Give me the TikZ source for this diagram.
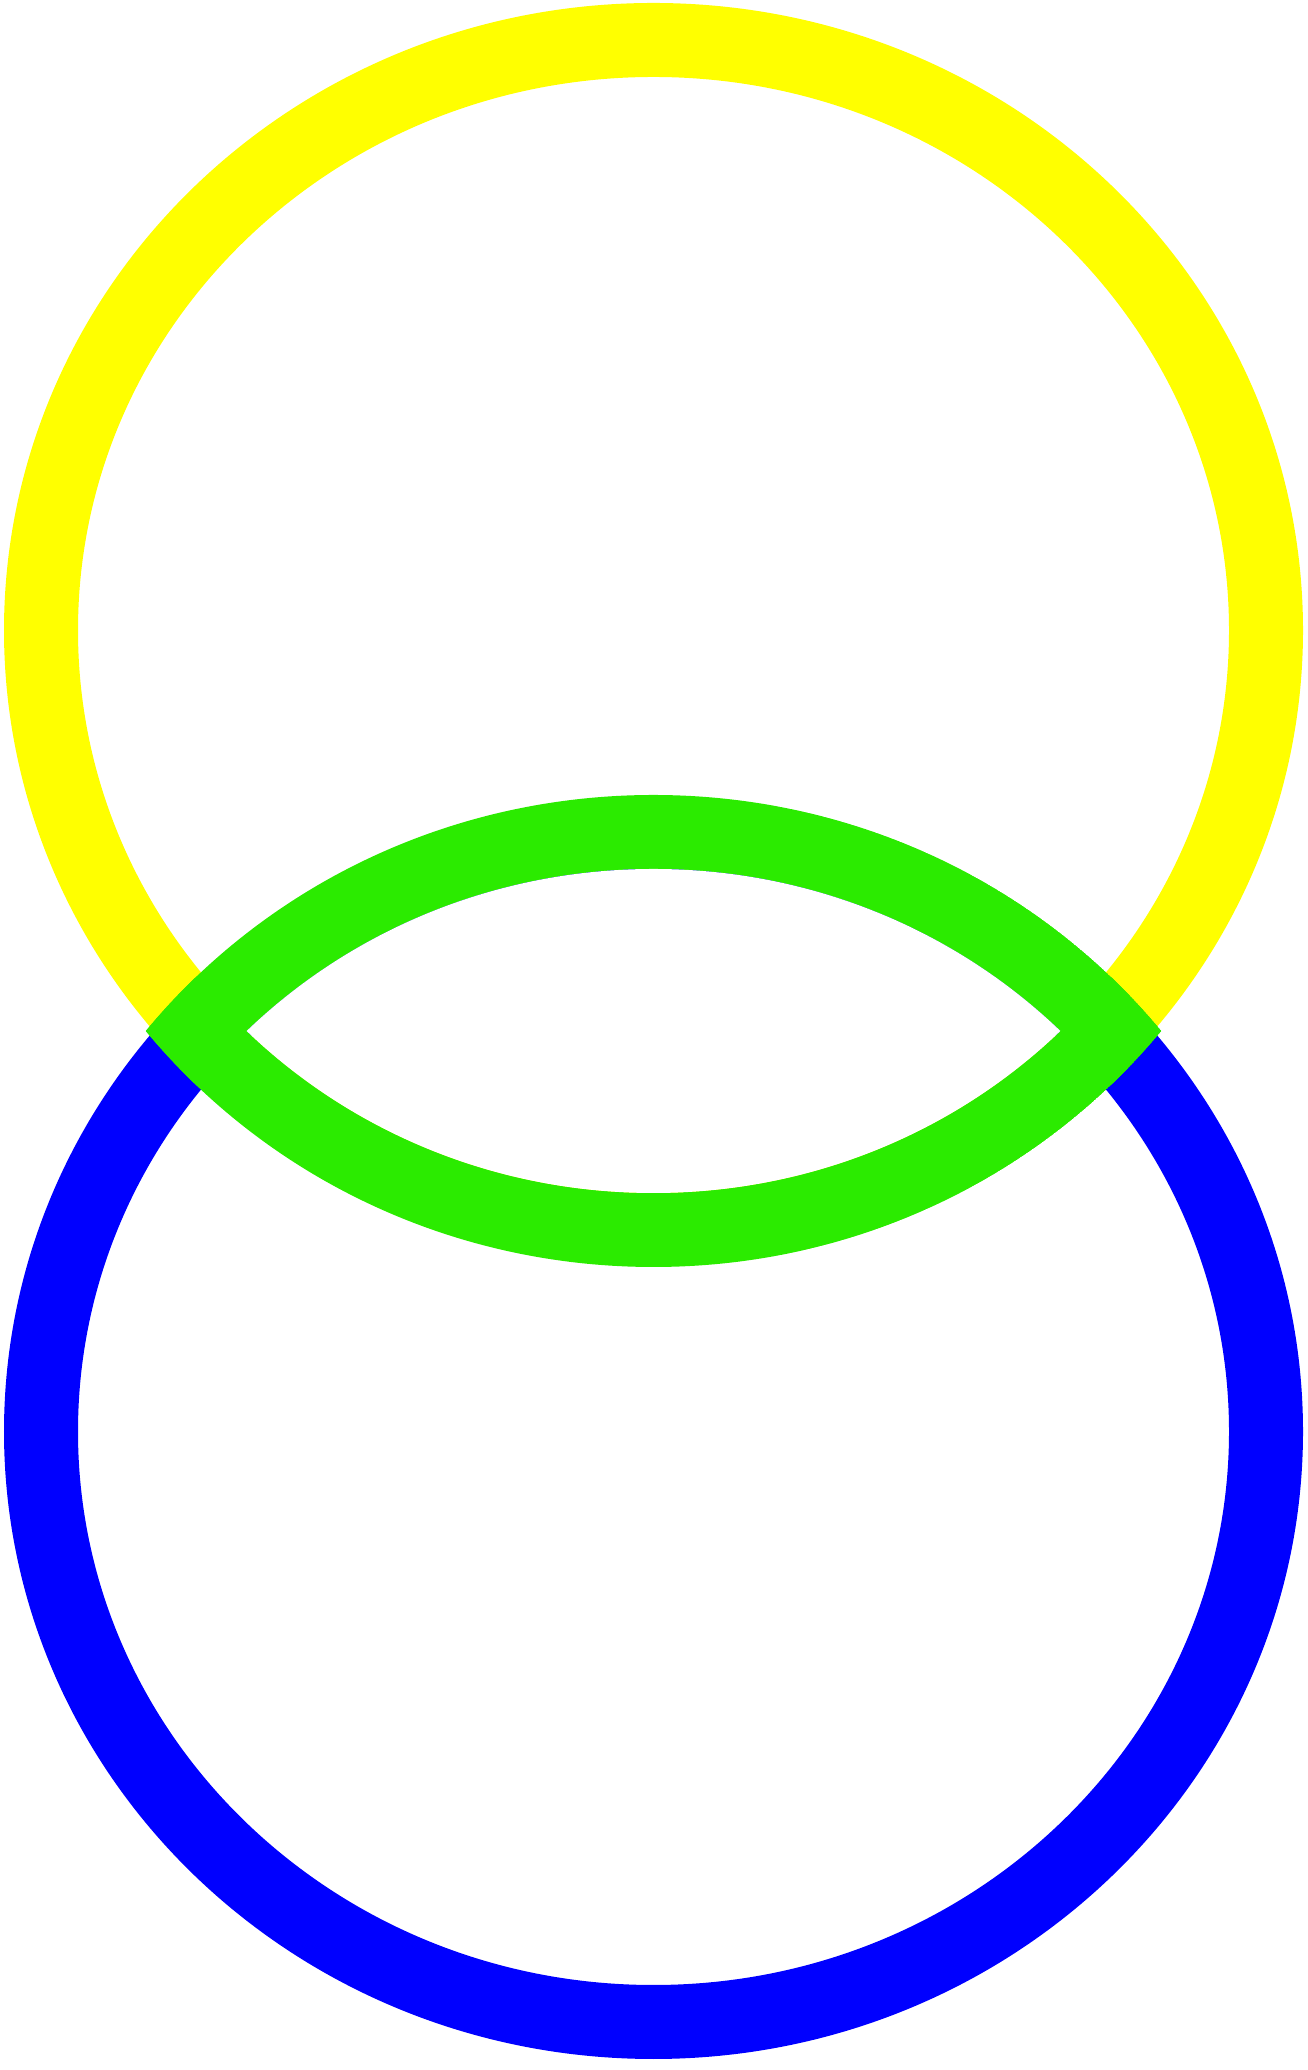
\documentclass[tikz,border=0pt]{standalone}
\usepackage{xcolor}
\usepackage{tikz}

\definecolor{ringyellow}{RGB}{255,255,0}
\definecolor{ringblue}{RGB}{0,0,255}
\definecolor{lensgreen}{RGB}{43,235,0}

\begin{document}
\begin{tikzpicture}[
    ring/.style={line width=0.74cm},
    oval/.style={x radius=6.125, y radius=5.904},
    outeroval/.style={x radius=6.495, y radius=6.274},
    inneroval/.style={x radius=5.755, y radius=5.534},
]
    \useasboundingbox (0,0) rectangle (13.07,20.70);

    \coordinate (upper) at (6.535,14.396);
    \coordinate (lower) at (6.535,6.384);
    \coordinate (lensup) at (6.535,6.476);
    \coordinate (lensdown) at (6.535,14.304);

    \draw[ring, ringyellow] (upper) ellipse [oval];
    \draw[ring, ringblue] (lower) ellipse [oval];

    % overlap band
    \begin{scope}
        \clip (lensup) ellipse [outeroval];
        \clip (lensdown) ellipse [outeroval];
        \draw[ring, lensgreen] (lensup) ellipse [oval];
        \draw[ring, lensgreen] (lensdown) ellipse [oval];
    \end{scope}

    % empty middle of the lens
    \begin{scope}
        \clip (lensup) ellipse [inneroval];
        \fill[white] (lensdown) ellipse [inneroval];
    \end{scope}
\end{tikzpicture}
\end{document}
